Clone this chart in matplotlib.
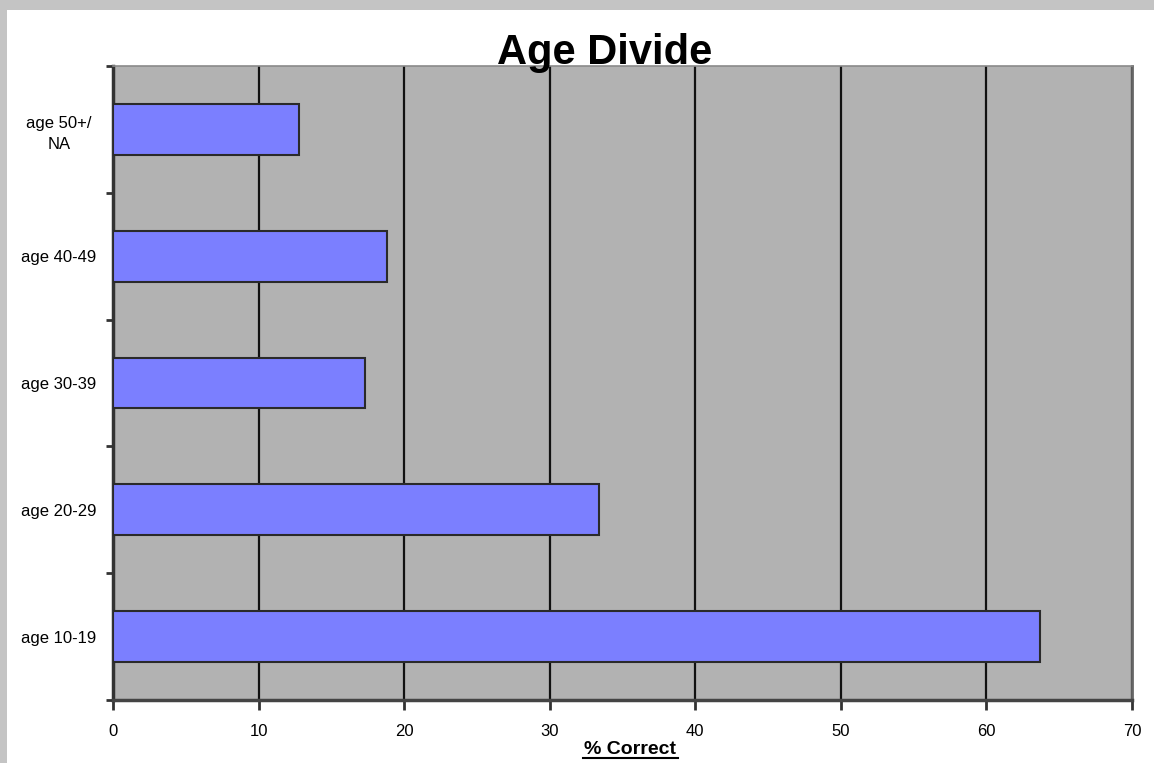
import matplotlib.pyplot as plt
from matplotlib.patches import Rectangle

# chart data (bottom to top)
categories = ["age 10-19", "age 20-29", "age 30-39", "age 40-49", "age 50+/\nNA"]
pct_correct = [63.7, 33.4, 17.3, 18.8, 12.8]
x_ticks = [0, 10, 20, 30, 40, 50, 60, 70]

plt.rcParams['font.family'] = ['Liberation Sans', 'DejaVu Sans']

W, H = 1154, 763
fig = plt.figure(figsize=(W / 100, H / 100), dpi=100)
fig.patch.set_facecolor("#c4c4c4")
# white page inside the grey shadow frame
fig.patches.append(Rectangle((7 / W, 0), 1, 1 - 10 / H, transform=fig.transFigure,
                             facecolor="white", edgecolor="none", zorder=-5))

ax = fig.add_axes([113 / W, 1 - 700 / H, (1132 - 113) / W, (700 - 66) / H])
ax.set_facecolor("#b2b2b2")

pos = list(range(len(categories)))
ax.barh(pos, pct_correct, height=0.4, color="#7b7fff", edgecolor="#2a2a2a",
        linewidth=1.5, zorder=3)

ax.set_xlim(0, 70)
ax.set_ylim(-0.5, len(categories) - 0.5)
ax.set_xticks(x_ticks)
ax.set_xticklabels([str(t) for t in x_ticks], fontsize=12)
ax.set_yticks(pos)
ax.set_yticklabels(categories, fontsize=12, ha="center", linespacing=1.5)
ax.tick_params(axis="y", length=0, pad=39)
# category separators on the value axis
ax.set_yticks([p - 0.5 for p in pos] + [len(pos) - 0.5], minor=True)
ax.tick_params(axis="y", which="minor", length=5, width=2, color="#333333")
ax.tick_params(axis="x", length=7, width=2, color="#333333", pad=10)

# vertical gridlines
ax.xaxis.grid(True, color="#111111", linewidth=1.6, zorder=1)
ax.set_axisbelow(True)

ax.spines["left"].set_color("#333333")
ax.spines["left"].set_linewidth(2.5)
ax.spines["bottom"].set_color("#444444")
ax.spines["bottom"].set_linewidth(2.5)
ax.spines["top"].set_color("#8a8a8a")
ax.spines["top"].set_linewidth(1.2)
ax.spines["right"].set_color("#666666")
ax.spines["right"].set_linewidth(2)

fig.text(605 / W, 1 - 64 / H, "Age Divide", fontsize=30, fontweight="bold",
         ha="center", va="baseline", zorder=10)
fig.text(630 / W, 1 - 754 / H, "% Correct", fontsize=14, fontweight="bold",
         ha="center", va="baseline")
# underline for the axis title
fig.add_artist(plt.Line2D([583 / W, 678 / W], [1 - 758 / H, 1 - 758 / H],
                          color="black", linewidth=1.5))

fig.savefig("out.png", dpi=100)
